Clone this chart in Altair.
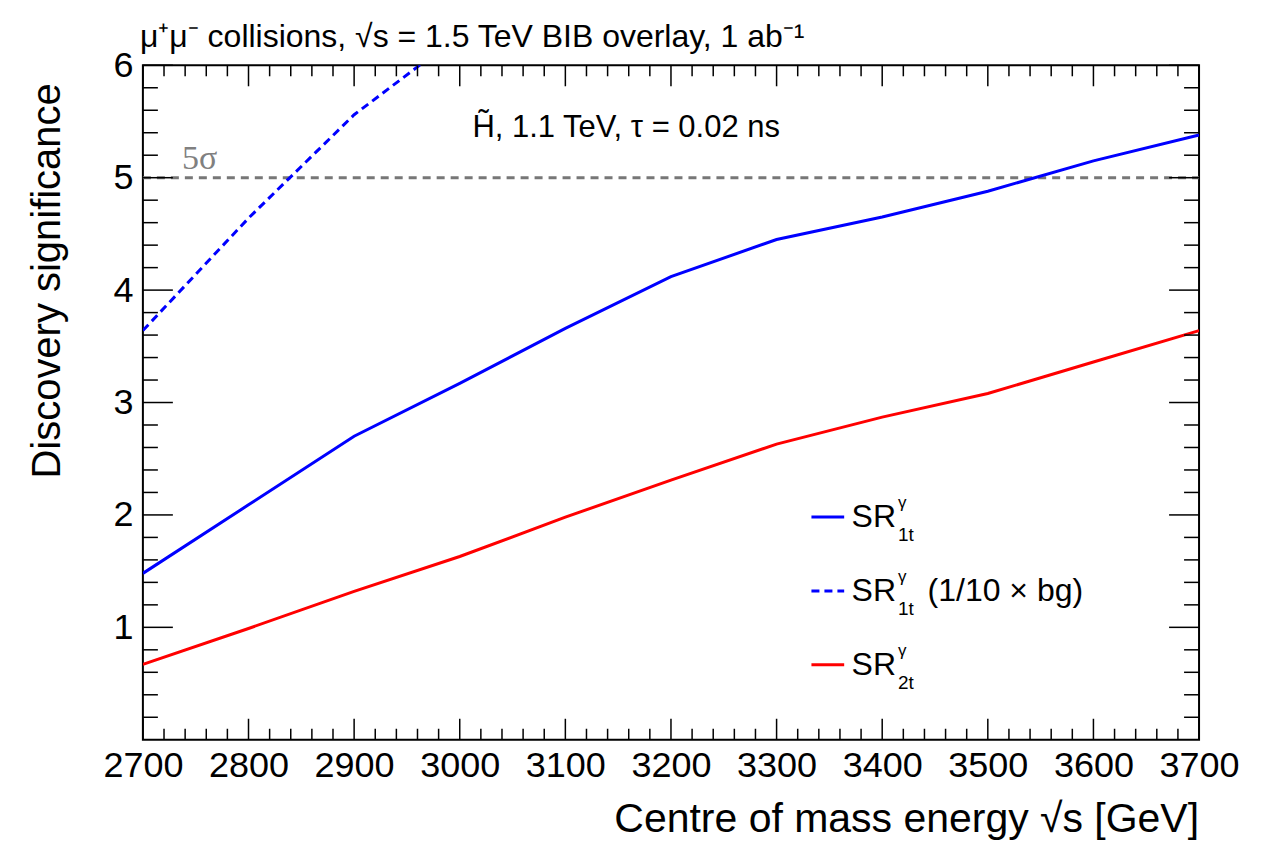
import altair as alt
import pandas as pd

# ---- data ----
energy = [2700, 2800, 2900, 3000, 3100, 3200, 3300, 3400, 3500, 3600, 3700]
sr1t = [1.48, 2.09, 2.70, 3.17, 3.66, 4.12, 4.45, 4.65, 4.88, 5.15, 5.38]
sr2t = [0.67, 0.99, 1.32, 1.63, 1.98, 2.31, 2.63, 2.87, 3.08, 3.36, 3.64]
energy_bg = [2700, 2800, 2900, 3000]
sr1t_bg = [3.64, 4.64, 5.56, 6.27]

x_major = [2700, 2800, 2900, 3000, 3100, 3200, 3300, 3400, 3500, 3600, 3700]
x_minor = [v for v in range(2700, 3701, 20) if v % 100 != 0]
y_major = [1, 2, 3, 4, 5, 6]
y_minor = [round(v * 0.2, 1) for v in range(0, 31) if v % 5 != 0]

legend_rows = [1.982, 1.324, 0.667]

W, H = 1057, 675
FONT = "Liberation Sans"
BLUE = "#0000ff"
RED = "#ff0000"

xscale = alt.Scale(domain=[2700, 3700], nice=False, zero=False)
yscale = alt.Scale(domain=[0, 6], nice=False, zero=True)
xaxis = alt.Axis(values=x_major, format="d", title=None, labelFontSize=36, labelFont=FONT,
                 labelColor="black", labelPadding=9, ticks=False, domain=False, grid=False,
                 labelOverlap=False, labelFlush=False)
yaxis = alt.Axis(values=y_major, format="d", title=None, labelFontSize=36, labelFont=FONT,
                 labelColor="black", labelPadding=10, ticks=False, domain=False, grid=False,
                 labelOverlap=False, labelFlush=False)


def X(f="x"):
    return alt.X(f"{f}:Q", scale=xscale, axis=xaxis)


def Y(f="y"):
    return alt.Y(f"{f}:Q", scale=yscale, axis=yaxis)


df1 = pd.DataFrame({"x": energy, "y": sr1t})
df2 = pd.DataFrame({"x": energy, "y": sr2t})
dfbg = pd.DataFrame({"x": energy_bg, "y": sr1t_bg})
df5 = pd.DataFrame({"x": [2700, 3700], "y": [5, 5]})

five = alt.Chart(df5).mark_line(color="#777777", strokeWidth=3, strokeDash=[8, 6]).encode(x=X(), y=Y())
l1 = alt.Chart(df1).mark_line(color=BLUE, strokeWidth=3, clip=True).encode(x=X(), y=Y())
l2 = alt.Chart(df2).mark_line(color=RED, strokeWidth=3, clip=True).encode(x=X(), y=Y())
lbg = alt.Chart(dfbg).mark_line(color=BLUE, strokeWidth=3, strokeDash=[8, 5], clip=True).encode(x=X(), y=Y())

# ---- inward ticks on all four sides ----
dxM = pd.DataFrame({"x": x_major})
dxm = pd.DataFrame({"x": x_minor})
dyM = pd.DataFrame({"y": y_major})
dym = pd.DataFrame({"y": y_minor})
tick_style = dict(color="black", strokeWidth=1.5)
ticks = [
    alt.Chart(dxM).mark_rule(**tick_style).encode(x=X(), y=alt.value(H), y2=alt.value(H - 21)),
    alt.Chart(dxM).mark_rule(**tick_style).encode(x=X(), y=alt.value(0), y2=alt.value(21)),
    alt.Chart(dxm).mark_rule(**tick_style).encode(x=X(), y=alt.value(H), y2=alt.value(H - 11)),
    alt.Chart(dxm).mark_rule(**tick_style).encode(x=X(), y=alt.value(0), y2=alt.value(11)),
    alt.Chart(dyM).mark_rule(**tick_style).encode(y=Y(), x=alt.value(0), x2=alt.value(30)),
    alt.Chart(dyM).mark_rule(**tick_style).encode(y=Y(), x=alt.value(W), x2=alt.value(W - 30)),
    alt.Chart(dym).mark_rule(**tick_style).encode(y=Y(), x=alt.value(0), x2=alt.value(15)),
    alt.Chart(dym).mark_rule(**tick_style).encode(y=Y(), x=alt.value(W), x2=alt.value(W - 15)),
]

# ---- legend (drawn by hand for sub/superscripts) ----
leg_lines = pd.DataFrame({"x": [3333] * 3, "x2": [3364] * 3, "y": legend_rows})
leg_solid1 = alt.Chart(leg_lines.iloc[[0]]).mark_rule(color=BLUE, strokeWidth=3).encode(
    x=X(), x2="x2:Q", y=Y())
leg_dash = alt.Chart(leg_lines.iloc[[1]]).mark_rule(color=BLUE, strokeWidth=3, strokeDash=[8, 5]).encode(
    x=X(), x2="x2:Q", y=Y())
leg_red = alt.Chart(leg_lines.iloc[[2]]).mark_rule(color=RED, strokeWidth=3).encode(
    x=X(), x2="x2:Q", y=Y())

leg_sr = pd.DataFrame({"x": [3371] * 3, "y": legend_rows, "t": ["SR"] * 3})
leg_sup = pd.DataFrame({"x": [3415] * 3, "y": legend_rows, "t": ["γ"] * 3})
leg_sub = pd.DataFrame({"x": [3415] * 3, "y": legend_rows, "t": ["1t", "1t", "2t"]})
leg_extra = pd.DataFrame({"x": [3443], "y": [legend_rows[1]], "t": ["(1/10 × bg)"]})

txt_sr = alt.Chart(leg_sr).mark_text(font=FONT, fontSize=32, align="left", baseline="alphabetic",
                                     dy=10, color="black").encode(x=X(), y=Y(), text="t:N")
txt_sup = alt.Chart(leg_sup).mark_text(font=FONT, fontSize=17, align="left", baseline="alphabetic",
                                       dy=-9, color="black").encode(x=X(), y=Y(), text="t:N")
txt_sub = alt.Chart(leg_sub).mark_text(font=FONT, fontSize=19, align="left", baseline="alphabetic",
                                       dy=24, color="black").encode(x=X(), y=Y(), text="t:N")
txt_extra = alt.Chart(leg_extra).mark_text(font=FONT, fontSize=32, align="left", baseline="alphabetic",
                                           dy=10, color="black").encode(x=X(), y=Y(), text="t:N")

# ---- annotations ----
ann_in = pd.DataFrame({"x": [3012], "y": [5.36], "t": ["H\u0303, 1.1 TeV, τ = 0.02 ns"]})
txt_in = alt.Chart(ann_in).mark_text(font=FONT, fontSize=31, align="left", baseline="alphabetic",
                                     color="black").encode(x=X(), y=Y(), text="t:N")
ann_5s = pd.DataFrame({"x": [2737], "y": [5.076], "t": ["5σ"]})
txt_5s = alt.Chart(ann_5s).mark_text(font="Liberation Serif", fontSize=34, align="left",
                                      baseline="alphabetic", color="#808080").encode(x=X(), y=Y(), text="t:N")

ann_top = pd.DataFrame({"t": ["μ⁺μ⁻ collisions, √s = 1.5 TeV BIB overlay, 1 ab⁻¹"]})
txt_top = alt.Chart(ann_top).mark_text(font=FONT, fontSize=32, align="left", baseline="alphabetic",
                                       color="black").encode(x=alt.value(-3), y=alt.value(-18), text="t:N")
ann_xt = pd.DataFrame({"t": ["Centre of mass energy  √s [GeV]"]})
txt_xt = alt.Chart(ann_xt).mark_text(font=FONT, fontSize=41, align="right", baseline="alphabetic",
                                     color="black").encode(x=alt.value(W), y=alt.value(767), text="t:N")
ann_yt = pd.DataFrame({"t": ["Discovery significance"]})
txt_yt = alt.Chart(ann_yt).mark_text(font=FONT, fontSize=40, align="right", baseline="middle",
                                     angle=270, color="black").encode(x=alt.value(-95), y=alt.value(18), text="t:N")

chart = alt.layer(
    five, lbg, l1, l2, *ticks,
    leg_solid1, leg_dash, leg_red, txt_sr, txt_sup, txt_sub, txt_extra,
    txt_in, txt_5s, txt_top, txt_xt, txt_yt,
).properties(
    width=W, height=H,
    padding={"left": 135, "top": 57, "right": 60, "bottom": 100},
    autosize=alt.AutoSizeParams(type="none"),
    background="white",
).configure_view(stroke="black", strokeWidth=2)

chart.save("out.html", embed_options={"renderer": "svg", "actions": False})
